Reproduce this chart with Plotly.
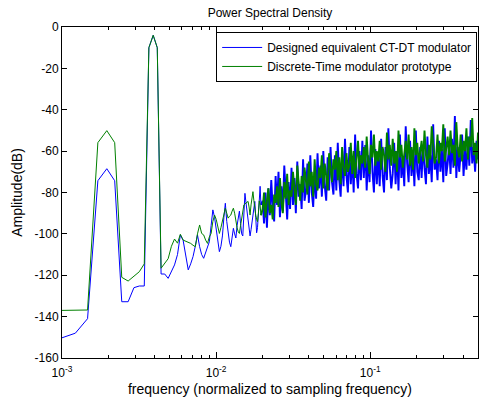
import numpy as np
import plotly.graph_objects as go

# FFT bins (fs normalised, N = 4096) read one by one at the low end
n_fft = 4096
bins_lo = list(range(4, 81))

blue_lo = [-150.5, -148, -141, -74.3, -68.5, -74.3, -132.8, -132.8, -126, -125.2, -125.2, -10, -4, -10,
           -119.4, -119.4, -121.5, -118.3, -115, -110, -100.5, -103, -111, -117.4, -114.5, -111, -106,
           -100.5, -106.2, -110, -111.8, -109.4, -107, -103.8, -96, -88.4, -92,
           -97, -102, -108.6, -106, -101, -92, -85.2, -94, -100.5, -104, -106.2, -101, -97.3, -100,
           -102, -96, -91, -89, -95, -100, -101, -90, -80.4, -85, -89, -91, -97, -101, -98, -94,
           -90, -85, -84.3, -92, -99.5, -97, -92, -84, -77, -86]

green_lo = [-137, -137, -136.8, -55.9, -50.1, -55.9, -121, -122.8, -120.5, -118.3, -114.5, -10, -4, -10,
            -116.6, -114.2, -112, -106, -102.5, -104.5, -100.2, -103, -103.6, -104, -104.6, -105.5, -106.2,
            -100, -95.7, -99.8, -100.5, -103, -104.6, -101.5, -99.8, -94, -90.9,
            -93, -96, -99.8, -97, -94, -90, -87.6, -90, -92.4, -91.5, -90.9, -89, -87.6, -90,
            -94.1, -97, -99, -99.8, -96, -92.4, -89, -86, -85.5, -85, -84.5, -84.3, -87, -90.9, -86, -82,
            -79.6, -84, -89.2, -91, -93, -94.1, -90, -84, -86, -91]

# dense noise region, 0.02 .. 0.5, values read as the band's zig-zag
blue_hi = [-84, -95, -80, -97, -78, -91, -74, -88, -94, -72,
           -86, -70, -92, -77, -89, -67, -84, -93, -75, -88,
           -68, -86, -73, -90, -65, -82, -76, -88, -64, -84,
           -79, -66, -85, -62, -80, -87, -70, -83, -61, -78,
           -67, -82, -60, -77, -84, -63, -79, -58, -75, -81,
           -62, -79, -56, -74, -82, -60, -77, -54, -72, -80,
           -58, -76, -63, -80, -52, -71, -78, -60, -74, -55,
           -73, -57, -79, -62, -75, -50, -70, -80, -59, -76,
           -61, -77, -54, -72, -80, -58, -74, -49, -68, -78,
           -71, -56, -76, -60, -79, -52, -73, -64, -77, -48,
           -66, -75, -55, -72, -61, -77, -50, -70, -74, -58,
           -73, -57, -68, -76, -53, -71, -62, -75, -47, -69,
           -64, -74, -55, -70, -59, -75, -49, -72, -66, -57,
           -71, -54, -68, -43, -73, -58, -70, -62, -52, -72,
           -60, -69, -53, -67, -45, -66, -58, -70, -55, -64]

green_hi = [-88, -80, -92, -84, -78, -90, -86, -93, -81, -85,
            -77, -87, -73, -85, -90, -75, -83, -71, -86, -79,
            -82, -70, -79, -86, -67, -77, -84, -72, -80, -68,
            -75, -81, -65, -77, -70, -82, -64, -76, -79, -68,
            -73, -62, -78, -66, -72, -79, -61, -70, -75, -64,
            -69, -60, -74, -63, -76, -58, -68, -72, -61, -70,
            -67, -56, -71, -60, -73, -64, -55, -69, -62, -66,
            -58, -68, -53, -65, -71, -57, -63, -52, -67, -60,
            -65, -55, -69, -58, -62, -70, -51, -64, -57, -67,
            -54, -66, -60, -70, -50, -63, -57, -68, -61, -55,
            -64, -52, -67, -58, -69, -49, -62, -56, -66, -60,
            -55, -65, -50, -62, -68, -57, -64, -48, -60, -66,
            -63, -52, -66, -56, -60, -47, -65, -58, -53, -62,
            -50, -61, -57, -67, -46, -59, -63, -52, -65, -55,
            -60, -49, -64, -53, -58, -44, -62, -56, -66, -51]

y_ticks = [0, -20, -40, -60, -80, -100, -120, -140, -160]
x_ticks = [1e-3, 1e-2, 1e-1]
x_ticktext = ["10<sup>-3</sup>", "10<sup>-2</sup>", "10<sup>-1</sup>"]

names = ["Designed equivalent CT-DT modulator", "Discrete-Time modulator prototype"]
colors = ["#0000ff", "#008000"]

freq_lo = np.array(bins_lo) / n_fft
freq_hi = np.geomspace(82 / n_fft, 0.5, len(blue_hi))

fig = go.Figure()
for name, color, lo, hi in zip(names, colors, [blue_lo, green_lo], [blue_hi, green_hi]):
    # sparse part: thin line
    fig.add_trace(go.Scatter(x=freq_lo, y=lo, mode="lines", line=dict(color=color, width=1),
                             name=name, legendgroup=name))
    # dense noise part: thicker so the band fills in like the original
    fig.add_trace(go.Scatter(x=np.concatenate([freq_lo[-1:], freq_hi]), y=lo[-1:] + hi,
                             mode="lines", line=dict(color=color, width=1.9),
                             name=name, legendgroup=name, showlegend=False))

minor_vals = [m * d for d in (1e-3, 1e-2, 1e-1) for m in range(2, 10) if m * d <= 0.5]

fig.update_layout(
    width=479, height=400,
    margin=dict(l=62, r=1, t=27, b=42),
    paper_bgcolor="white", plot_bgcolor="white",
    font=dict(family="Liberation Sans, Arial, sans-serif", size=12, color="black"),
    title=dict(text="Power Spectral Density", x=0.5, xref="paper", xanchor="center",
               y=1 - 13 / 400, yref="container", yanchor="middle",
               font=dict(size=12)),
    showlegend=True,
    legend=dict(x=0.998, y=0.985, xanchor="right", yanchor="top",
                bgcolor="white", bordercolor="black", borderwidth=1,
                font=dict(size=12), tracegroupgap=0, itemwidth=40),
)
fig.update_xaxes(
    type="log", range=[-3, np.log10(0.5)],
    tickmode="array", tickvals=x_ticks, ticktext=x_ticktext,
    ticks="inside", ticklen=6, tickcolor="black", ticklabelstandoff=4,
    minor=dict(tickmode="array", tickvals=minor_vals, ticks="inside", ticklen=3,
               tickcolor="black", showgrid=False),
    showline=True, linecolor="black", linewidth=1, mirror="ticks",
    showgrid=False, zeroline=False,
    title=dict(text="frequency (normalized to sampling frequency)", standoff=4),
)
fig.update_yaxes(
    range=[-160, 0],
    tickmode="array", tickvals=y_ticks, ticktext=[str(v) for v in y_ticks],
    ticks="inside", ticklen=5, tickcolor="black",
    showline=True, linecolor="black", linewidth=1, mirror="ticks",
    showgrid=False, zeroline=False,
    title=dict(text="Amplitude(dB)", standoff=8),
)

# the page's default body margin would shift the figure by 8px
fig.write_html("out.html", config={"displayModeBar": False},
               post_script="document.body.style.margin='0';")
